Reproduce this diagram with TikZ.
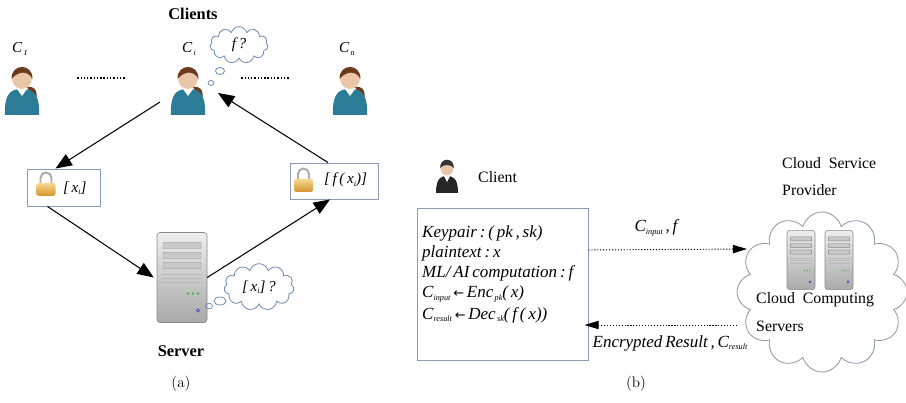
\documentclass[tikz,border=0pt]{standalone}
\usepackage{fontspec}
\newfontfamily\tnr{Liberation Serif}
\newfontfamily\djv{DejaVu Sans}
\usetikzlibrary{shapes.symbols,arrows.meta,calc}

\definecolor{boxline}{HTML}{8C9CB8}
\definecolor{cloudline}{HTML}{6E8DB5}
\definecolor{bigcloud}{HTML}{8E97A8}
\definecolor{shirt}{HTML}{2C7C98}
\definecolor{skin}{HTML}{E9C6A8}
\definecolor{hairbrown}{HTML}{6E3A1E}
\definecolor{lockhi}{HTML}{F6D88E}
\definecolor{locklo}{HTML}{D4952E}
\definecolor{srvhi}{HTML}{EEEEEE}
\definecolor{srvlo}{HTML}{A9A9A9}
\definecolor{srvedge}{HTML}{8A8A8A}
\definecolor{srvslot}{HTML}{C9C9C9}

\newcommand\lowsub[1]{\raisebox{-0.35ex}{\fontsize{7}{8}\selectfont #1}}

\tikzset{
  lbl/.style={font=\tnr\fontsize{13.5}{16}\selectfont, inner sep=0},
  lblb/.style={font=\tnr\bfseries\fontsize{14}{16}\selectfont, inner sep=0},
  mth/.style={font=\tnr\itshape\fontsize{14.5}{17.3}\selectfont, inner sep=0},
  mths/.style={font=\tnr\itshape\fontsize{13}{15}\selectfont, inner sep=0},
  figcaption/.style={font=\fontsize{13}{15}\selectfont, inner sep=0},
  personbox/.style={minimum width=1.05cm, minimum height=1.5cm, inner sep=0},
  lockbox/.style={draw=boxline, line width=0.8pt, inner sep=0},
  arr/.style={line width=0.9pt, -{Triangle[length=14pt,width=11pt]}},
  dotarr/.style={line width=0.8pt, dash pattern=on 1pt off 1.5pt, -{Triangle[length=12pt,width=7pt]}},
  dotline/.style={line width=1pt, dash pattern=on 1.2pt off 1.6pt},
  thought/.style={cloud, draw=cloudline, line width=0.7pt, cloud puffs=11, cloud ignores aspect, inner sep=0},
  bubble/.style={draw=cloudline, line width=0.7pt},
  % user with teal top and pony tail
  pics/person/.style={code={
    \fill[hairbrown] (5,-3) .. controls (15,-5) and (17,6) .. (12,13) .. controls (10,6) and (8,2) .. (5,-3) -- cycle;
    \fill[shirt] (-17,25) .. controls (-18,2) and (-10,-1) .. (0,-1) .. controls (10,-1) and (18,2) .. (17,25) -- cycle;
    \fill[white] (-5,-1) -- (0,6) -- (5,-1) -- cycle;
    \fill[skin] (0,-12) ellipse (10 and 11);
    \fill[hairbrown] (-10.5,-11) .. controls (-11,-27) and (11,-27) .. (10.5,-11) .. controls (6,-20) and (-4,-19) .. (-10.5,-11) -- cycle;
  }},
  % user in a dark suit
  pics/suitman/.style={code={
    \fill[black!85] (-11,17) .. controls (-11,2) and (-6,0) .. (0,0) .. controls (6,0) and (11,2) .. (11,17) -- cycle;
    \fill[white] (-3,0) -- (0,6) -- (3,0) -- cycle;
    \fill[skin] (0,-8) ellipse (6.5 and 7.5);
    \fill[black!80] (-6.8,-8) .. controls (-7.5,-19) and (7.5,-19) .. (6.8,-8) .. controls (4,-12) and (-4,-12) .. (-6.8,-8) -- cycle;
  }},
  % padlock
  pics/padlock/.style={code={
    \draw[gray!65, line width=1.7pt] (-5.5,1) -- (-5.5,-5) arc[start angle=180, end angle=360, radius=5.5] -- (5.5,1);
    \shade[top color=lockhi, bottom color=locklo, rounded corners=1.5pt] (-9.5,0) rectangle (9.5,13);
  }},
  % tower server
  pics/tower/.style={code={
    \shade[top color=srvhi, bottom color=srvlo, draw=srvedge, line width=0.5pt, rounded corners=2.5pt] (-25,-45) rectangle (25,45);
    \foreach \yy in {-35,-25,-15}
      \draw[srvedge, line width=0.4pt, fill=srvslot, rounded corners=0.5pt] (-19,\yy) rectangle (19,\yy+6);
    \foreach \yy in {-3,1,5}
      \draw[srvedge!60, line width=0.3pt] (-20,\yy) -- (20,\yy);
    \foreach \xx in {6,11,16}
      \fill[green!55!black!70] (\xx,16) circle (1.3);
    \draw[blue!45!gray, line width=0.5pt] (16,33) circle (1.6);
  }}
}

\begin{document}
\begin{tikzpicture}[x=0.03cm, y=-0.03cm]
\useasboundingbox (0,0) rectangle (906,403);

% ---------------- (a) ----------------
\node[lblb] (clients) at (193,14) {Clients};

\node[personbox] (c1) at (22,90) {};
\node[personbox] (ci) at (188,90) {};
\node[personbox] (cn) at (350,90) {};
\pic at (c1) {person};
\pic at (ci) {person};
\pic at (cn) {person};

\node[mths] (lc1) at (20,49) {C\lowsub{\,1}};
\node[mths] (lci) at (189,49) {C\lowsub{\,i}};
\node[mths] (lcn) at (347,49) {C\lowsub{\,n}};

\draw[dotline] ($(c1.east)+(37.5,-12)$) -- ($(ci.west)+(-45,-12)$);
\draw[dotline] ($(ci.east)+(35.5,-12)$) -- ($(cn.west)+(-43.5,-12)$);

% client thought
\node[thought, minimum width=1.74cm, minimum height=1.1cm] (fq) at (239,45) {};
\node[mths] (fqt) at (fq) {f\,?};
\draw[bubble] (220,71) ellipse (4.5 and 3.5);
\draw[bubble] (211,83) ellipse (3 and 2.5);

% encrypted input
\node[lockbox, minimum width=2.19cm, minimum height=1.11cm] (lockA) at (63.5,187.5) {};
\pic at (46,183) {padlock};
\node[mths, anchor=west] (xa) at (63,188) {[\,x\lowsub{i}]};

% encrypted result
\node[lockbox, minimum width=2.64cm, minimum height=1.08cm] (lockB) at (334,181) {};
\pic at (303.5,179) {padlock};
\node[mths, anchor=west] (fx) at (324,180) {[\,f\,(\,x\lowsub{i})]};

% server
\node[minimum width=1.5cm, minimum height=2.73cm, inner sep=0] (server) at (182,277.5) {};
\pic at (server) {tower};
\node[lblb] (serverlbl) at (181,351) {Server};

% server thought
\node[thought, minimum width=2.1cm, minimum height=1.4cm] (xq) at (259,287) {};
\node[mths] (xqt) at (xq) {[\,x\lowsub{i}]\,?};
\draw[bubble] (220,301) ellipse (6 and 4);
\draw[bubble] (209,306) ellipse (3.5 and 2.8);

% flow
\draw[arr] ($(ci)+(-28,12)$) -- ($(lockA.north)+(-8,0)$);
\draw[arr] ($(lockA.south)+(-16,0)$) -- ($(server.west)+(-3,0)$);
\draw[arr] (server.east) -- ($(lockB.south)+(-4,0)$);
\draw[arr] ($(lockB.north)+(-6,0)$) -- ($(ci)+(30,3)$);

\node[figcaption] (capa) at (181,384) {(a)};

% ---------------- (b) ----------------
\node[minimum width=0.66cm, minimum height=1.05cm, inner sep=0] (client) at (447,176) {};
\pic at (client) {suitman};
\node[lbl, anchor=west] (clientlbl) at (478,177) {Client};

\node[draw=boxline, line width=0.8pt, minimum width=5.13cm, minimum height=4.56cm, inner sep=0] (kbox) at (502.5,284) {};
\node[mth, anchor=north west, align=left] (ktext) at (422,225) {%
Keypair\,:\,(\,pk\,,\,sk)\\
plaintext\,:\,x\\
ML/\,AI\,computation\,:\,f\\
C\lowsub{input}\,{\djv\fontsize{11}{13}\selectfont ←}\,Enc\lowsub{\,pk}(\,x)\\[1pt]
C\lowsub{result}\,{\djv\fontsize{11}{13}\selectfont ←}\,Dec\lowsub{\,sk}(\,f\,(\,x))};

\node[cloud, draw=bigcloud, line width=0.7pt, cloud puffs=12, cloud ignores aspect,
      minimum width=5.1cm, minimum height=4.8cm, inner sep=0] (csp) at (822,292) {};
\node[lbl, anchor=west] (csp1) at (782,163) {Cloud\ \ Service};
\node[lbl, anchor=west] (csp2) at (782,190) {Provider};

\node[minimum width=0.84cm, minimum height=1.8cm, inner sep=0] (s1) at (801,260) {};
\node[minimum width=0.84cm, minimum height=1.8cm, inner sep=0] (s2) at (839,260) {};
\pic[xscale=0.56, yscale=0.66] at (s1) {tower};
\pic[xscale=0.56, yscale=0.66] at (s2) {tower};
\node[lbl, anchor=west] (ccs1) at (756,300) {Cloud\ \ Computing};
\node[lbl, anchor=west] (ccs2) at (756,326) {Servers};

\coordinate (inA) at (747,249);
\coordinate (outB) at (737,325);
\draw[dotarr] ($(kbox.east)+(0,-34)$) -- (inA);
\draw[dotarr] (outB) -- ($(kbox.east)+(-4,41)$);
\node[mth] (inlbl) at (656,228) {C\lowsub{input}\,,\,f};
\node[mth] (outlbl) at (670,343) {Encrypted\,Result\,,\,C\lowsub{result}};

\node[figcaption] (capb) at (636,384) {(b)};
\end{tikzpicture}
\end{document}
